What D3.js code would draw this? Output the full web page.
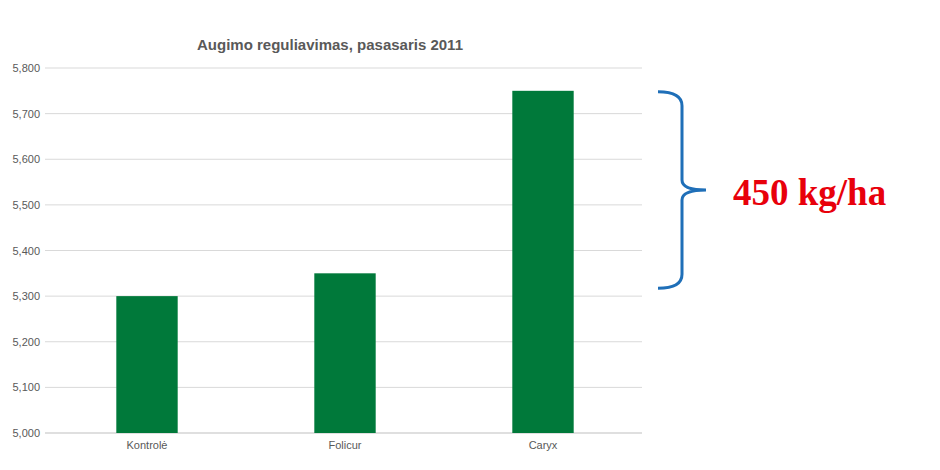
<!DOCTYPE html>
<html><head><meta charset="utf-8">
<script src="https://cdn.jsdelivr.net/npm/d3@7"></script>
<style>body{margin:0;background:#fff}text{font-family:"Liberation Sans",Arial,sans-serif}</style>
</head><body><svg width="940" height="470"></svg>
<script>
const categories = ["Kontrolė", "Folicur", "Caryx"];
const values = [5300, 5350, 5750];
const yTicks = [5000, 5100, 5200, 5300, 5400, 5500, 5600, 5700, 5800];
const title = "Augimo reguliavimas, pasasaris 2011";
const note = "450 kg/ha";

const svg = d3.select("svg");
const plotLeft = 48, plotRight = 642, plotTop = 68, plotBottom = 433;

const x = d3.scaleBand().domain(categories).range([plotLeft, plotRight]).paddingInner(0.69).paddingOuter(0.345);
const y = d3.scaleLinear().domain([5000, 5800]).range([plotBottom, plotTop]);

// gridlines
svg.append("g").selectAll("line").data(yTicks).join("line")
    .attr("x1", plotLeft - 3).attr("x2", plotRight)
    .attr("y1", d => y(d)).attr("y2", d => y(d))
    .attr("stroke", d => d === 5000 ? "#bfbfbf" : "#d9d9d9").attr("stroke-width", 1);

const yAxis = svg.append("g").attr("transform", `translate(${plotLeft - 8},0)`)
    .call(d3.axisLeft(y).tickValues(yTicks).tickSize(0).tickPadding(0));
yAxis.select(".domain").remove();
yAxis.selectAll("text").attr("fill", "#595959").attr("font-size", 11);

const xAxis = svg.append("g").attr("transform", `translate(0,${plotBottom})`)
    .call(d3.axisBottom(x).tickSize(0).tickPadding(8));
xAxis.select(".domain").remove();
xAxis.selectAll("text").attr("fill", "#595959").attr("font-size", 11);

svg.append("g").selectAll("rect").data(values).join("rect")
    .attr("x", (d, i) => x(categories[i]))
    .attr("width", x.bandwidth())
    .attr("y", d => y(d))
    .attr("height", d => y(5000) - y(d))
    .attr("fill", "#00793a");

svg.append("text").attr("x", 330).attr("y", 50).attr("text-anchor", "middle")
    .attr("font-size", 15).attr("font-weight", "bold").attr("fill", "#595959").text(title);

// curly brace spanning the difference
const bt = y(values[2]) + 1, bb = y(values[0]) - 8, bm = (bt + bb) / 2;
const bx = 658, bw = 24;
svg.append("path")
    .attr("d", `M${bx},${bt} Q${bx + bw},${bt} ${bx + bw},${bt + 14} L${bx + bw},${bm - 10} Q${bx + bw},${bm} ${bx + bw + 24},${bm}
      Q${bx + bw},${bm} ${bx + bw},${bm + 10} L${bx + bw},${bb - 14} Q${bx + bw},${bb} ${bx},${bb}`)
    .attr("fill", "none").attr("stroke", "#1f6fb8").attr("stroke-width", 3);

svg.append("text").attr("x", 733).attr("y", 205)
    .style("font-family", "'Liberation Serif','Times New Roman',serif")
    .attr("font-size", 37).attr("font-weight", "bold").attr("fill", "#e8000b").text(note);
</script></body></html>
